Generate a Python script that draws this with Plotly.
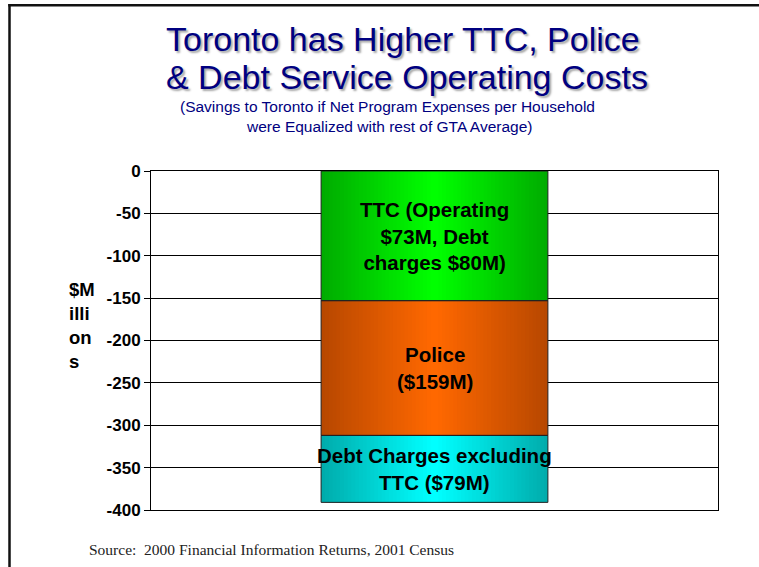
import plotly.graph_objects as go

# ---- data ----
category = ["Toronto"]
segment_names = ["TTC", "Police", "Debt Charges excluding TTC"]
segment_values = [-153, -159, -79]          # $ millions
segment_labels = [
    "TTC (Operating<br>$73M, Debt<br>charges $80M)",
    "Police<br>($159M)",
    "Debt Charges excluding<br>TTC ($79M)",
]
tick_values = [0, -50, -100, -150, -200, -250, -300, -350, -400]
tick_text = ["0", "-50", "-100", "-150", "-200", "-250", "-300", "-350", "-400"]

# ---- style ----
edge_colors = [(0, 172, 0), (184, 72, 0), (0, 172, 172)]
center_colors = [(0, 255, 0), (255, 104, 0), (0, 255, 255)]
BAR_WIDTH = 0.4
STEPS = 30
FONT = "Liberation Sans, Arial, sans-serif"

W, H = 759, 567
ML, MR, MT, MB = 151, 41, 171, 57
PW, PH = W - ML - MR, H - MT - MB


def px_x(x):
    return (x - ML) / PW


def px_y(y):
    return (H - MB - y) / PH


# bases for stacking (cumulative)
bases = []
acc = 0
for v in segment_values:
    bases.append(acc)
    acc += v

fig = go.Figure()

# horizontal gradient emulated with nested bars (edge -> centre)
for k in range(STEPS):
    t = k / (STEPS - 1)
    cols = []
    for e, c in zip(edge_colors, center_colors):
        rgb = tuple(round(e[i] + (c[i] - e[i]) * t) for i in range(3))
        cols.append("rgb(%d,%d,%d)" % rgb)
    fig.add_trace(go.Bar(
        x=category * len(segment_values),
        y=segment_values,
        base=bases,
        width=BAR_WIDTH * (1 - k / STEPS),
        marker=dict(color=cols, line=dict(width=0)),
        showlegend=False,
        hoverinfo="skip",
        textposition="none",
    ))

# outline
fig.add_trace(go.Bar(
    x=category * len(segment_values),
    y=segment_values,
    base=bases,
    width=BAR_WIDTH,
    marker=dict(color="rgba(0,0,0,0)", line=dict(color="#222", width=1)),
    showlegend=False,
    customdata=segment_names,
    textposition="none",
    hovertemplate="%{customdata}: %{y}<extra></extra>",
))

annotations = []
for b, v, lab in zip(bases, segment_values, segment_labels):
    annotations.append(dict(
        x=category[0], y=b + v / 2, xref="x", yref="y",
        text=lab, showarrow=False, align="center",
        xanchor="center", yanchor="middle",
        font=dict(family=FONT, size=20.5, color="black", weight="bold"),
    ))

title_font = dict(family=FONT, size=34, color="#000080",
                  shadow="2px 2px 2px rgba(0,0,0,0.35)")
annotations += [
    dict(x=px_x(403), y=px_y(38.5), xref="paper", yref="paper",
         text="Toronto has Higher TTC, Police", showarrow=False,
         xanchor="center", yanchor="middle", font=title_font),
    dict(x=px_x(407), y=px_y(77), xref="paper", yref="paper",
         text="& Debt Service Operating Costs", showarrow=False,
         xanchor="center", yanchor="middle", font=title_font),
    dict(x=px_x(387), y=px_y(106.5), xref="paper", yref="paper",
         text="(Savings to Toronto if Net Program Expenses per Household",
         showarrow=False, xanchor="center", yanchor="middle",
         font=dict(family=FONT, size=15.5, color="#000080")),
    dict(x=px_x(389), y=px_y(126.5), xref="paper", yref="paper",
         text="were Equalized with rest of GTA Average)",
         showarrow=False, xanchor="center", yanchor="middle",
         font=dict(family=FONT, size=15.5, color="#000080")),
    dict(x=px_x(67), y=px_y(325.5), xref="paper", yref="paper",
         text="$M<br>illi<br>on<br>s", showarrow=False, align="left",
         xanchor="left", yanchor="middle",
         font=dict(family=FONT, size=18.5, color="black", weight="bold")),
    dict(x=px_x(87), y=px_y(549), xref="paper", yref="paper",
         text="Source:  2000 Financial Information Returns, 2001 Census",
         showarrow=False, xanchor="left", yanchor="middle",
         font=dict(family="Liberation Serif, Times New Roman, serif",
                   size=15.5, color="#222")),
]

shapes = [
    dict(type="line", xref="paper", yref="paper",
         x0=px_x(9.5), x1=px_x(9.5), y0=px_y(4), y1=px_y(620),
         line=dict(color="#111", width=2.5)),
    dict(type="line", xref="paper", yref="paper",
         x0=px_x(8.3), x1=px_x(820), y0=px_y(5.3), y1=px_y(5.3),
         line=dict(color="#111", width=2.5)),
]

fig.update_layout(
    width=W, height=H,
    margin=dict(l=ML, r=MR, t=MT, b=MB, pad=0),
    barmode="overlay",
    paper_bgcolor="white", plot_bgcolor="white",
    showlegend=False,
    annotations=annotations,
    shapes=shapes,
    xaxis=dict(type="category", range=[-0.5, 0.5], showticklabels=False,
               showgrid=False, zeroline=False, ticks="",
               showline=True, linecolor="black", linewidth=1, mirror=True),
    yaxis=dict(range=[-400, 0], tickvals=tick_values, ticktext=tick_text,
               showgrid=True, gridcolor="black", gridwidth=1, zeroline=False,
               showline=True, linecolor="black", linewidth=1, mirror=True,
               ticks="outside", ticklen=6, tickcolor="black",
               tickfont=dict(family=FONT, size=17, color="black", weight="bold")),
)

fig.write_html(
    "out.html",
    config={"displayModeBar": False},
    post_script="document.body.style.margin='0';document.body.style.overflow='hidden';",
)
